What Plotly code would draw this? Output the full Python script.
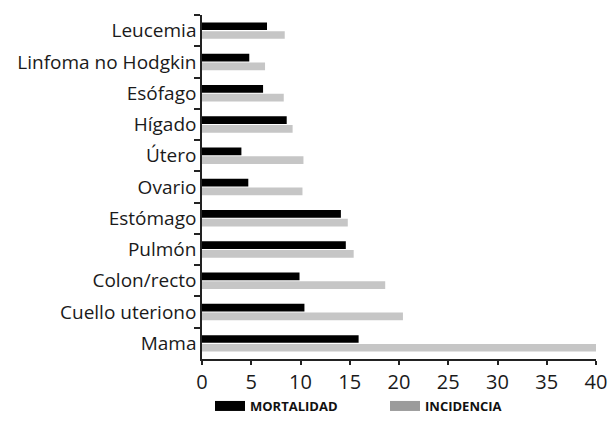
import plotly.graph_objects as go

categorias = ["Leucemia", "Linfoma no Hodgkin", "Esófago", "Hígado", "Útero", "Ovario",
              "Estómago", "Pulmón", "Colon/recto", "Cuello uteriono", "Mama"]
mortalidad = [6.6, 4.8, 6.2, 8.6, 4.0, 4.7, 14.1, 14.6, 9.9, 10.4, 15.9]
incidencia = [8.4, 6.4, 8.3, 9.2, 10.3, 10.2, 14.8, 15.4, 18.6, 20.4, 40.0]
x_ticks = [0, 5, 10, 15, 20, 25, 30, 35, 40]

FONT = "Open Sans"
AXC = "#222222"

fig = go.Figure()
fig.add_trace(go.Bar(y=categorias, x=mortalidad, orientation="h", marker_color="#000000",
                     marker_line_width=0, showlegend=False, name="MORTALIDAD"))
fig.add_trace(go.Bar(y=categorias, x=incidencia, orientation="h", marker_color="#c6c6c6",
                     marker_line_width=0, showlegend=False, name="INCIDENCIA"))
# legend entries
fig.add_trace(go.Scatter(x=[None], y=[None], mode="lines", name="MORTALIDAD",
                         line=dict(color="#000000", width=12)))
fig.add_trace(go.Scatter(x=[None], y=[None], mode="lines", name="INCIDENCIA",
                         line=dict(color="#9b9b9b", width=12)))

n = len(categorias)
fig.update_layout(
    width=613, height=421,
    margin=dict(l=202, r=17, t=15, b=62, autoexpand=False),
    paper_bgcolor="white", plot_bgcolor="white",
    barmode="group", bargap=0.44, bargroupgap=0.12,
    font=dict(family=FONT, size=19, color="#1a1a1a"),
    xaxis=dict(range=[0, 40], tickvals=x_ticks, ticks="outside", ticklen=4, tickwidth=1.5,
               tickcolor=AXC, showline=True, linecolor=AXC, linewidth=1.5, showgrid=False,
               zeroline=False, tickfont=dict(size=20), automargin=False),
    xaxis2=dict(range=[0, 40], tickvals=x_ticks, ticks="inside", ticklen=4, tickwidth=1.5,
                tickcolor=AXC, showticklabels=False, overlaying="x", anchor="y",
                showgrid=False, zeroline=False, showline=False, automargin=False),
    yaxis=dict(type="category", categoryorder="array", categoryarray=categorias,
               range=[n - 0.5, -0.5], tickson="boundaries", ticks="outside", ticklen=6,
               tickwidth=1.5, tickcolor=AXC, showline=True, linecolor=AXC, linewidth=1.5,
               showgrid=False, zeroline=False, tickfont=dict(size=19), automargin=False),
    yaxis2=dict(range=[n - 0.5, -0.5], tickvals=[i - 0.5 for i in range(n + 1)],
                ticktext=[""] * (n + 1), ticks="inside", ticklen=8, tickwidth=1.5,
                tickcolor=AXC, overlaying="y", anchor="x", side="left",
                showgrid=False, zeroline=False, showline=False, automargin=False),
    legend=dict(orientation="h", xref="container", yref="container", x=0.3426, y=-0.012,
                xanchor="left", yanchor="bottom", entrywidth=130,
                font=dict(family=FONT, size=13, color="#111111", weight="bold"),
                bgcolor="rgba(0,0,0,0)"),
)
fig.write_html("out.html", post_script="document.body.style.margin='0';",
               config={"displayModeBar": False})
